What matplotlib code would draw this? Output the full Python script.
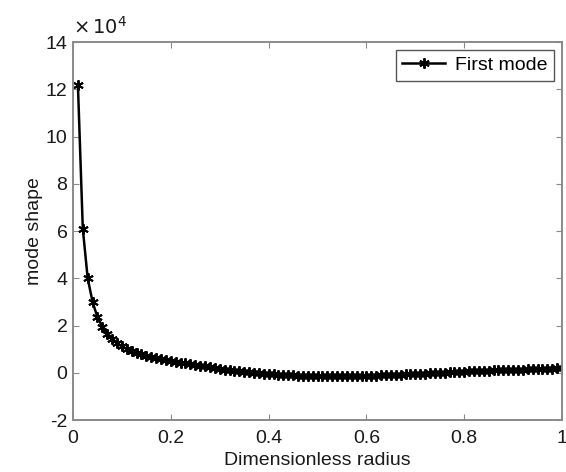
import numpy as np
import matplotlib
matplotlib.use("Agg")
import matplotlib.pyplot as plt
from matplotlib.ticker import FuncFormatter

plt.rcParams['font.family'] = ['Liberation Sans', 'DejaVu Sans']
plt.rcParams['axes.unicode_minus'] = False

# Dimensionless radius (x) and first mode shape (y, in units of 1e4)
radius = [round(0.01 * k, 2) for k in range(1, 101)]
mode_e4 = [
    12.2, 6.1, 4.0, 3.0, 2.35, 1.95, 1.65, 1.42, 1.25, 1.12,
    1.01, 0.92, 0.85, 0.78, 0.73, 0.68, 0.64, 0.60, 0.55, 0.50,
    0.46, 0.43, 0.40, 0.36, 0.33, 0.30, 0.27, 0.24, 0.20, 0.17,
    0.14, 0.12, 0.09, 0.07, 0.05, 0.03, 0.01, -0.01, -0.03, -0.05,
    -0.06, -0.08, -0.09, -0.10, -0.11, -0.12, -0.13, -0.13, -0.14, -0.14,
    -0.15, -0.15, -0.15, -0.15, -0.15, -0.15, -0.14, -0.14, -0.13, -0.13,
    -0.12, -0.12, -0.11, -0.10, -0.10, -0.09, -0.08, -0.07, -0.06, -0.05,
    -0.04, -0.03, -0.02, -0.01, 0.00, 0.01, 0.02, 0.03, 0.04, 0.05,
    0.06, 0.07, 0.08, 0.08, 0.09, 0.10, 0.11, 0.11, 0.12, 0.13,
    0.14, 0.14, 0.15, 0.16, 0.16, 0.17, 0.18, 0.18, 0.19, 0.20,
]
mode_shape = [v * 1e4 for v in mode_e4]
series_label = "First mode"
x_ticks = [0, 0.2, 0.4, 0.6, 0.8, 1]
y_ticks_e4 = [-2, 0, 2, 4, 6, 8, 10, 12, 14]

FS = 14
TXT = '#1a1a1a'

fig = plt.figure(figsize=(5.66, 4.72), dpi=100)
ax = fig.add_axes([0.129, 0.110, 0.864, 0.801])

ax.plot(radius, mode_shape, color='black', linewidth=1.8,
        marker=(6, 2, 0), markersize=7.5, markeredgewidth=1.4,
        label=series_label)

ax.set_xlim(0, 1)
ax.set_ylim(-2e4, 14e4)
ax.set_xticks(x_ticks)
ax.xaxis.set_major_formatter(FuncFormatter(lambda v, p: f"{v:g}"))
ax.set_yticks([v * 1e4 for v in y_ticks_e4])
ax.yaxis.set_major_formatter(FuncFormatter(lambda v, p: f"{v / 1e4:g}"))
ax.text(0.0, 1.012, r"$\times\,10^{4}$", transform=ax.transAxes,
        fontsize=FS, color=TXT, ha='left', va='bottom')

for s in ax.spines.values():
    s.set_color('#8a8a8a')
    s.set_linewidth(1.4)
ax.tick_params(direction='in', top=True, right=True, length=4,
               color='#8a8a8a', labelsize=FS, labelcolor=TXT)
ax.tick_params(axis='x', pad=7)
ax.tick_params(axis='y', pad=4)

ax.set_xlabel('Dimensionless radius', fontsize=FS, color=TXT, labelpad=4)
ax.set_ylabel('mode shape', fontsize=FS, color=TXT, labelpad=2)

leg = ax.legend(loc='upper right', fontsize=FS, fancybox=False,
                framealpha=1, edgecolor='#555555', handlelength=2.2,
                handletextpad=0.5, borderpad=0.35, borderaxespad=0.4)
leg.get_frame().set_linewidth(1.0)

fig.savefig('out.png', dpi=100)
